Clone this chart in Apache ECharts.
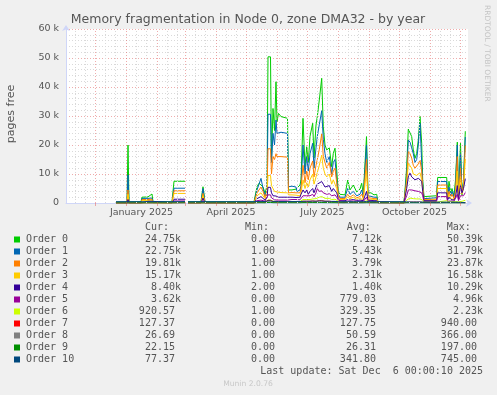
<!DOCTYPE html>
<html><head><meta charset="utf-8">
<script src="https://cdn.jsdelivr.net/npm/echarts@6/dist/echarts.min.js"></script>
<style>html,body{margin:0;padding:0;background:#F0F0F0;}#c{width:497px;height:395px;}</style>
</head><body><div id="c"></div>
<script>
// x = days since 1 Jan 2025; values in thousands of pages
const days = [
 -10,1,2,3,15,16,22,26,27,46,47,48,59,60,62,75,77,79,128,
 129,131,133,135,137,139,141,142,144.5,145.5,147,148.5,150,151,152.5,155,161.5,162.5,166,170,171,174,
 175,177,179,180.7,182.3,184,186.7,188,190,191.3,193.3,195.7,197.3,199,200.7,203.3,205.7,207.3,209,210.7,212.3,
 214,216,219,221.7,224,227.3,230.7,234,235.7,237.3,239,240.5,242,245,248,250.7,252,
 278,
 279,280.7,282.3,284,285.7,287.3,289,290.7,292.3,294,295.7,296.7,298,310.5,311.7,320.7,321.5,323,324.7,326,328,329.5,331.3,332.5,334.5,336,337.5,339.3
];
const order0 = [
 0.3,0.3,20.0,0.4,0.4,2.0,2.1,3.1,0.4,0.4,0.4,7.5,7.5,null,0.4,0.4,5.6,0.4,0.4,
 0.5,5.6,6.8,7.0,5.6,3.3,6.0,50.4,50.4,14.8,32.6,25.0,41.8,28.0,30.9,29.8,29.2,4.5,4.5,4.8,5.4,6.2,
 8.0,29.2,12.5,19.4,14.0,23.0,27.5,15.5,26.9,29.8,35.5,43.0,26.3,20.0,18.3,19.0,12.5,17.1,18.9,11.4,3.9,
 3.0,3.2,2.8,7.9,4.5,6.2,3.8,4.8,6.8,3.0,3.5,22.9,3.5,3.5,2.8,3.0,0.3,
 0.3,
 4.5,12.5,25.5,25.2,22.9,18.3,15.4,17.1,21.7,29.8,20.6,7.9,2.2,2.5,8.8,8.8,2.2,7.5,3.5,5.0,2.5,7.9,21.0,2.2,20.6,2.8,7.9,24.75
];
const order1 = [
 0.2,0.2,9.7,0.2,0.2,1.6,1.6,1.7,0.2,0.2,0.2,5.1,5.1,null,0.2,0.2,5.0,0.2,0.2,
 0.3,4.5,6.5,8.5,5.0,2.5,5.0,30.6,30.6,14.0,24.0,20.0,28.6,24.0,24.5,24.4,24.0,5.6,5.8,5.5,4.0,4.5,
 6.0,20.0,10.0,16.0,11.0,17.0,20.6,12.0,19.0,23.0,27.0,31.8,22.0,17.0,14.0,16.0,10.0,14.0,15.0,8.0,3.0,
 2.0,2.5,2.0,5.0,3.0,4.0,2.5,3.0,4.5,2.0,2.5,20.0,2.5,2.3,2.0,2.0,0.2,
 0.2,
 3.5,10.0,21.7,21.0,19.0,17.0,14.0,15.0,20.0,27.5,14.0,6.5,1.5,1.8,7.4,7.4,1.8,5.5,2.5,4.0,2.0,6.0,20.0,2.0,17.0,3.0,7.0,22.75
];
const order2 = [
 0.1,0.1,4.5,0.1,0.1,1.2,1.2,1.3,0.1,0.1,0.1,4.2,4.2,null,0.1,0.1,3.3,0.1,0.1,
 0.2,3.5,4.5,5.5,4.0,2.0,4.0,18.7,18.7,10.0,16.0,15.0,17.0,16.0,16.0,16.0,15.8,3.5,3.6,3.5,3.0,3.5,
 5.0,13.0,7.0,11.0,8.0,12.0,14.5,9.0,13.0,15.0,18.5,23.8,16.0,14.0,12.0,14.0,9.0,11.0,12.0,7.0,2.5,
 1.6,1.8,1.5,3.0,2.0,2.8,1.8,2.2,3.0,1.6,1.8,15.0,1.8,1.7,1.5,1.5,0.1,
 0.1,
 3.0,8.0,17.7,17.0,15.5,13.0,12.0,12.5,13.5,14.8,11.0,5.5,1.2,1.3,6.2,6.2,1.5,4.0,2.0,3.0,1.5,4.0,16.0,1.8,12.0,3.5,6.0,19.81
];
const order3 = [
 0.05,0.05,3.0,0.05,0.05,0.9,0.9,1.0,0.05,0.05,0.05,3.3,3.3,null,0.05,0.05,2.5,0.05,0.05,
 0.1,2.5,3.0,3.5,3.0,1.5,3.0,9.5,9.5,6.0,5.0,4.0,4.5,3.8,3.7,3.6,3.5,2.8,2.8,2.7,2.5,2.5,
 3.5,8.0,5.0,7.0,5.5,8.0,10.0,6.5,9.0,10.5,13.0,16.5,12.0,10.0,9.0,10.0,6.5,8.0,8.5,5.0,2.0,
 1.2,1.3,1.2,2.0,1.5,2.0,1.3,1.5,2.0,1.2,1.3,11.0,1.3,1.3,1.2,1.1,0.05,
 0.05,
 2.5,6.0,13.7,13.5,12.0,10.0,9.7,9.5,10.0,10.5,8.0,4.5,1.0,1.0,5.0,5.0,1.2,3.0,1.5,2.0,1.2,3.0,11.0,1.5,9.0,3.0,5.0,15.17
];
const order4 = [
 0.02,0.02,1.2,0.02,0.02,0.6,0.6,0.6,0.02,0.02,0.02,1.3,1.3,null,0.02,0.02,1.7,0.02,0.02,
 0.05,1.5,2.0,2.2,1.8,1.0,2.0,5.4,5.4,3.5,2.5,2.2,2.4,2.1,2.0,2.0,2.0,1.8,2.0,1.9,1.8,2.0,
 3.0,4.5,3.5,4.5,3.0,4.0,5.0,3.5,5.5,6.5,7.0,7.4,6.5,5.5,5.0,6.0,4.0,5.0,5.0,3.5,1.5,
 0.8,0.9,0.8,1.2,1.0,1.2,0.9,1.0,1.2,0.8,0.9,4.0,0.9,0.9,0.8,0.8,0.02,
 0.02,
 2.0,5.0,9.0,10.29,9.0,8.5,8.0,7.5,8.5,9.0,7.5,4.0,0.8,0.8,3.5,3.5,1.0,2.0,1.2,1.5,1.0,2.0,6.0,1.2,6.0,3.5,5.0,8.4
];
const order5 = [
 0.01,0.01,0.6,0.01,0.01,0.3,0.3,0.3,0.01,0.01,0.01,0.7,0.7,null,0.01,0.01,0.8,0.01,0.01,
 0.02,0.8,1.0,1.0,0.9,0.6,1.0,2.8,2.8,1.8,1.3,1.1,1.2,1.0,1.0,1.0,1.0,1.1,1.2,1.2,1.1,1.1,
 1.5,2.5,2.0,2.5,2.0,2.5,3.0,2.2,3.5,4.96,4.0,4.2,3.5,3.0,3.0,3.2,2.5,2.8,2.8,2.0,1.0,
 0.6,0.6,0.5,0.7,0.6,0.7,0.6,0.6,0.7,0.5,0.5,2.0,0.6,0.6,0.5,0.5,0.01,
 0.01,
 1.0,2.5,4.5,4.6,4.5,4.3,4.2,4.0,4.0,3.9,3.5,2.5,0.5,0.5,2.2,2.2,0.6,1.0,0.7,0.8,0.6,1.2,3.0,0.8,2.5,2.0,2.5,3.62
];
const order6 = [
 0.01,0.01,0.2,0.01,0.01,0.1,0.1,0.1,0.01,0.01,0.01,0.3,0.3,null,0.01,0.01,0.3,0.01,0.01,
 0.01,0.3,0.4,0.4,0.4,0.3,0.4,1.0,1.0,0.8,0.6,0.5,0.5,0.5,0.5,0.5,0.5,0.5,0.5,0.5,0.5,0.5,
 0.6,1.2,1.0,1.2,1.0,1.2,1.4,1.0,1.5,1.8,2.0,2.23,1.8,1.6,1.5,1.6,1.2,1.3,1.3,1.0,0.6,
 0.3,0.3,0.3,0.4,0.3,0.4,0.3,0.3,0.4,0.3,0.3,0.8,0.3,0.3,0.3,0.3,0.01,
 0.01,
 0.4,1.0,1.6,1.7,1.6,1.5,1.5,1.4,1.4,1.4,1.3,1.0,0.3,0.3,0.8,0.8,0.3,0.4,0.3,0.4,0.3,0.5,1.0,0.4,0.9,0.6,0.7,0.92
];
const order7 = [
 0,0,0.1,0,0,0,0,0,0,0,0,0.1,0.1,null,0,0,0.1,0,0,
 0,0.2,0.3,0.3,0.3,0.2,0.3,0.94,0.94,0.6,0.5,0.4,0.4,0.4,0.4,0.4,0.4,0.3,0.3,0.3,0.3,0.3,
 0.4,0.6,0.5,0.6,0.5,0.6,0.7,0.5,0.6,0.7,0.8,0.8,0.7,0.6,0.6,0.6,0.5,0.5,0.5,0.4,0.3,
 0.15,0.15,0.15,0.2,0.15,0.2,0.15,0.15,0.2,0.15,0.15,0.3,0.15,0.15,0.15,0.15,0,
 0,
 0.1,0.2,0.3,0.3,0.3,0.3,0.3,0.3,0.3,0.3,0.3,0.2,0.1,0.1,0.2,0.2,0.1,0.15,0.1,0.15,0.1,0.15,0.2,0.1,0.2,0.15,0.15,0.127
];
const order8 = [
 0.02,0.02,0.05,0.02,0.02,0.03,0.03,0.03,0.02,0.02,0.02,0.04,0.04,null,0.02,0.02,0.04,0.02,0.02,
 0.02,0.06,0.08,0.1,0.08,0.05,0.08,0.366,0.366,0.2,0.15,0.12,0.12,0.1,0.1,0.1,0.1,0.08,0.08,0.08,0.08,0.08,
 0.1,0.15,0.12,0.15,0.12,0.15,0.18,0.12,0.15,0.2,0.2,0.22,0.18,0.15,0.15,0.15,0.12,0.12,0.12,0.1,0.06,
 0.05,0.05,0.05,0.06,0.05,0.06,0.05,0.05,0.06,0.05,0.05,0.1,0.05,0.05,0.05,0.05,0.02,
 0.02,
 0.04,0.06,0.1,0.1,0.1,0.09,0.09,0.08,0.08,0.08,0.07,0.06,0.03,0.03,0.05,0.05,0.03,0.04,0.03,0.04,0.03,0.04,0.06,0.03,0.05,0.04,0.04,0.027
];
const order9 = [
 0.01,0.01,0.03,0.01,0.01,0.02,0.02,0.02,0.01,0.01,0.01,0.03,0.03,null,0.01,0.01,0.03,0.01,0.01,
 0.01,0.04,0.05,0.06,0.05,0.03,0.05,0.197,0.197,0.1,0.08,0.07,0.07,0.06,0.06,0.06,0.06,0.05,0.05,0.05,0.05,0.05,
 0.06,0.1,0.08,0.1,0.08,0.1,0.12,0.08,0.1,0.12,0.12,0.14,0.12,0.1,0.1,0.1,0.08,0.08,0.08,0.06,0.04,
 0.03,0.03,0.03,0.04,0.03,0.04,0.03,0.03,0.04,0.03,0.03,0.06,0.03,0.03,0.03,0.03,0.01,
 0.01,
 0.02,0.04,0.06,0.06,0.06,0.05,0.05,0.05,0.05,0.05,0.04,0.04,0.02,0.02,0.03,0.03,0.02,0.03,0.02,0.03,0.02,0.03,0.04,0.02,0.03,0.03,0.03,0.022
];
const order10 = [
 0.45,0.45,0.5,0.45,0.45,0.46,0.46,0.46,0.45,0.45,0.45,0.5,0.5,null,0.45,0.45,0.48,0.45,0.45,
 0.45,0.5,0.55,0.55,0.5,0.5,0.55,0.745,0.745,0.6,0.55,0.55,0.55,0.5,0.5,0.5,0.5,0.5,0.5,0.5,0.5,0.5,
 0.55,0.6,0.55,0.6,0.55,0.6,0.65,0.55,0.6,0.65,0.7,0.7,0.65,0.6,0.6,0.6,0.55,0.55,0.55,0.5,0.45,
 0.45,0.45,0.45,0.45,0.45,0.45,0.45,0.45,0.45,0.45,0.45,0.5,0.45,0.45,0.45,0.45,0.45,
 0.45,
 0.45,0.4,0.35,0.35,0.35,0.35,0.35,0.35,0.35,0.35,0.35,0.35,0.3,0.3,0.3,0.3,0.3,0.3,0.3,0.3,0.3,0.3,0.3,0.25,0.25,0.2,0.15,0.077
];

const seriesNames = ['Order 0','Order 1','Order 2','Order 3','Order 4','Order 5','Order 6','Order 7','Order 8','Order 9','Order 10'];
const seriesColors = ['#00CC00','#0066B3','#FF8000','#FFCC00','#330099','#990099','#CCFF00','#FF0000','#808080','#008F00','#00487D'];
const curVals = ['24.75k','22.75k','19.81k','15.17k','8.40k','3.62k','920.57','127.37','26.69','22.15','77.37'];
const minVals = ['0.00','1.00','1.00','1.00','2.00','0.00','1.00','0.00','0.00','0.00','0.00'];
const avgVals = ['7.12k','5.43k','3.79k','2.31k','1.40k','779.03','329.35','127.75','50.59','26.31','341.80'];
const maxVals = ['50.39k','31.79k','23.87k','16.58k','10.29k','4.96k','2.23k','940.00','366.00','197.00','745.00'];
const yTickValues = [0,10,20,30,40,50,60];
const xLabelDays = [15.5, 105, 196.5, 288.5];
const xLabelTexts = ['January 2025','April 2025','July 2025','October 2025'];
const monthStartDays = [-61,-31,0,31,59,90,120,151,181,212,243,273,304,334];
const titleText = 'Memory fragmentation in Node 0, zone DMA32 - by year';
const yAxisTitle = 'pages free';
const lastUpdate = 'Last update: Sat Dec  6 00:00:10 2025';
const sideText = 'RRDTOOL / TOBI OETIKER';
const footer = 'Munin 2.0.76';

const allOrders = [order0,order1,order2,order3,order4,order5,order6,order7,order8,order9,order10];
const X_MIN = -60, X_MAX = 342;
const MAJOR = 'rgba(224,90,90,0.5)', MINOR = '#d9d9d9', AXISC = '#CFD6F8';
const SANS = 'DejaVu Sans', MONO = 'DejaVu Sans Mono', TXT = '#555555';

const majorV = monthStartDays.filter(d => d >= X_MIN && d <= X_MAX);
const minorV = [];
monthStartDays.forEach(d => { [10.5, 20.5].forEach(o => { const v = d + o; if (v > X_MIN && v < X_MAX) minorV.push(v); }); });

const series = [{
  type: 'line', data: [], silent: true, z: 1,
  markLine: {
    silent: true, symbol: ['none','none'], label: {show: false}, animation: false,
    emphasis: {disabled: true},
    data: minorV.map(d => ({xAxis: d, lineStyle: {color: MINOR, type: [1,2], width: 1}}))
      .concat(majorV.map(d => ({xAxis: d, lineStyle: {color: MAJOR, type: [1,2], width: 1}})))
  }
}];
allOrders.forEach((arr, i) => {
  series.push({
    type: 'line', name: seriesNames[i], z: 3,
    data: days.map((d, j) => [d, arr[j] === null ? '-' : arr[j]]),
    symbol: 'none', connectNulls: false,
    lineStyle: {width: 1, color: seriesColors[i]},
    itemStyle: {color: seriesColors[i]},
    emphasis: {disabled: true}
  });
});

const graphic = [];
graphic.push({type: 'text', x: 248, y: 19.5, silent: true,
  style: {text: titleText, fill: TXT, font: '12.5px "' + SANS + '"', textAlign: 'center', textVerticalAlign: 'middle'}});
graphic.push({type: 'text', x: 11, y: 114, rotation: Math.PI / 2, silent: true,
  style: {text: yAxisTitle, fill: TXT, font: '11px "' + SANS + '"', textAlign: 'center', textVerticalAlign: 'middle'}});
graphic.push({type: 'text', x: 487, y: 5, rotation: -Math.PI / 2, silent: true,
  style: {text: sideText, fill: '#c4c4c4', font: '7.5px "' + SANS + '"', textAlign: 'left', textVerticalAlign: 'middle'}});
graphic.push({type: 'text', x: 248, y: 384, silent: true,
  style: {text: footer, fill: '#c8c8c8', font: '7.6px "' + SANS + '"', textAlign: 'center', textVerticalAlign: 'middle'}});

const mono = '10px "' + MONO + '"';
const headY = 227.7;
[['Cur:', 145], ['Min:', 245], ['Avg:', 346.7], ['Max:', 446.7]].forEach(h => {
  graphic.push({type: 'text', x: h[1], y: headY, silent: true,
    style: {text: h[0], fill: TXT, font: mono, textAlign: 'left', textVerticalAlign: 'middle'}});
});
const colEdges = [181, 281, 382, 483];
const cols = [curVals, minVals, avgVals, maxVals];
seriesNames.forEach((name, i) => {
  const y = 239.5 + 12 * i;
  graphic.push({type: 'rect', shape: {x: 14, y: y - 3, width: 6, height: 6}, silent: true, style: {fill: seriesColors[i]}});
  graphic.push({type: 'text', x: 26, y: y, silent: true,
    style: {text: name, fill: TXT, font: mono, textAlign: 'left', textVerticalAlign: 'middle'}});
  cols.forEach((col, c) => {
    const s = col[i];
    const edge = colEdges[c] - (s.endsWith('k') ? 0 : 6.02);
    graphic.push({type: 'text', x: edge, y: y, silent: true,
      style: {text: s, fill: TXT, font: mono, textAlign: 'right', textVerticalAlign: 'middle'}});
  });
});
graphic.push({type: 'text', x: 483, y: 371.3, silent: true,
  style: {text: lastUpdate, fill: TXT, font: mono, textAlign: 'right', textVerticalAlign: 'middle'}});

const chart = echarts.init(document.getElementById('c'), null, {renderer: 'canvas'});
chart.setOption({
  backgroundColor: '#F0F0F0',
  animation: false,
  grid: {left: 66, top: 29, width: 402, height: 174, containLabel: false, show: true, backgroundColor: '#FFFFFF', borderWidth: 0},
  xAxis: {
    type: 'value', min: X_MIN, max: X_MAX,
    axisLine: {show: true, onZero: false, lineStyle: {color: AXISC, width: 1}, symbol: ['none', 'arrow'], symbolSize: [6, 6], symbolOffset: [0, 4]},
    axisTick: {show: true, customValues: majorV, length: 3, inside: false, lineStyle: {color: MAJOR}},
    axisLabel: {show: true, customValues: xLabelDays, margin: 5, color: TXT, fontFamily: SANS, fontSize: 9.5,
      formatter: v => { const k = xLabelDays.indexOf(v); return k >= 0 ? xLabelTexts[k] : ''; }},
    splitLine: {show: false}
  },
  yAxis: {
    type: 'value', min: 0, max: 60, interval: 10,
    axisLine: {show: true, onZero: false, lineStyle: {color: AXISC, width: 1}, symbol: ['none', 'arrow'], symbolSize: [6, 6], symbolOffset: [0, 4]},
    axisTick: {show: false},
    axisLabel: {show: true, margin: 7, color: TXT, fontFamily: SANS, fontSize: 9.5,
      customValues: yTickValues,
      formatter: v => v === 0 ? '0' : v + ' k'},
    splitLine: {show: true, lineStyle: {color: MAJOR, type: [1, 2], width: 1}},
    minorTick: {show: false, splitNumber: 5},
    minorSplitLine: {show: true, lineStyle: {color: MINOR, type: [1, 2], width: 1}}
  },
  series: series,
  graphic: graphic
});
</script></body></html>
